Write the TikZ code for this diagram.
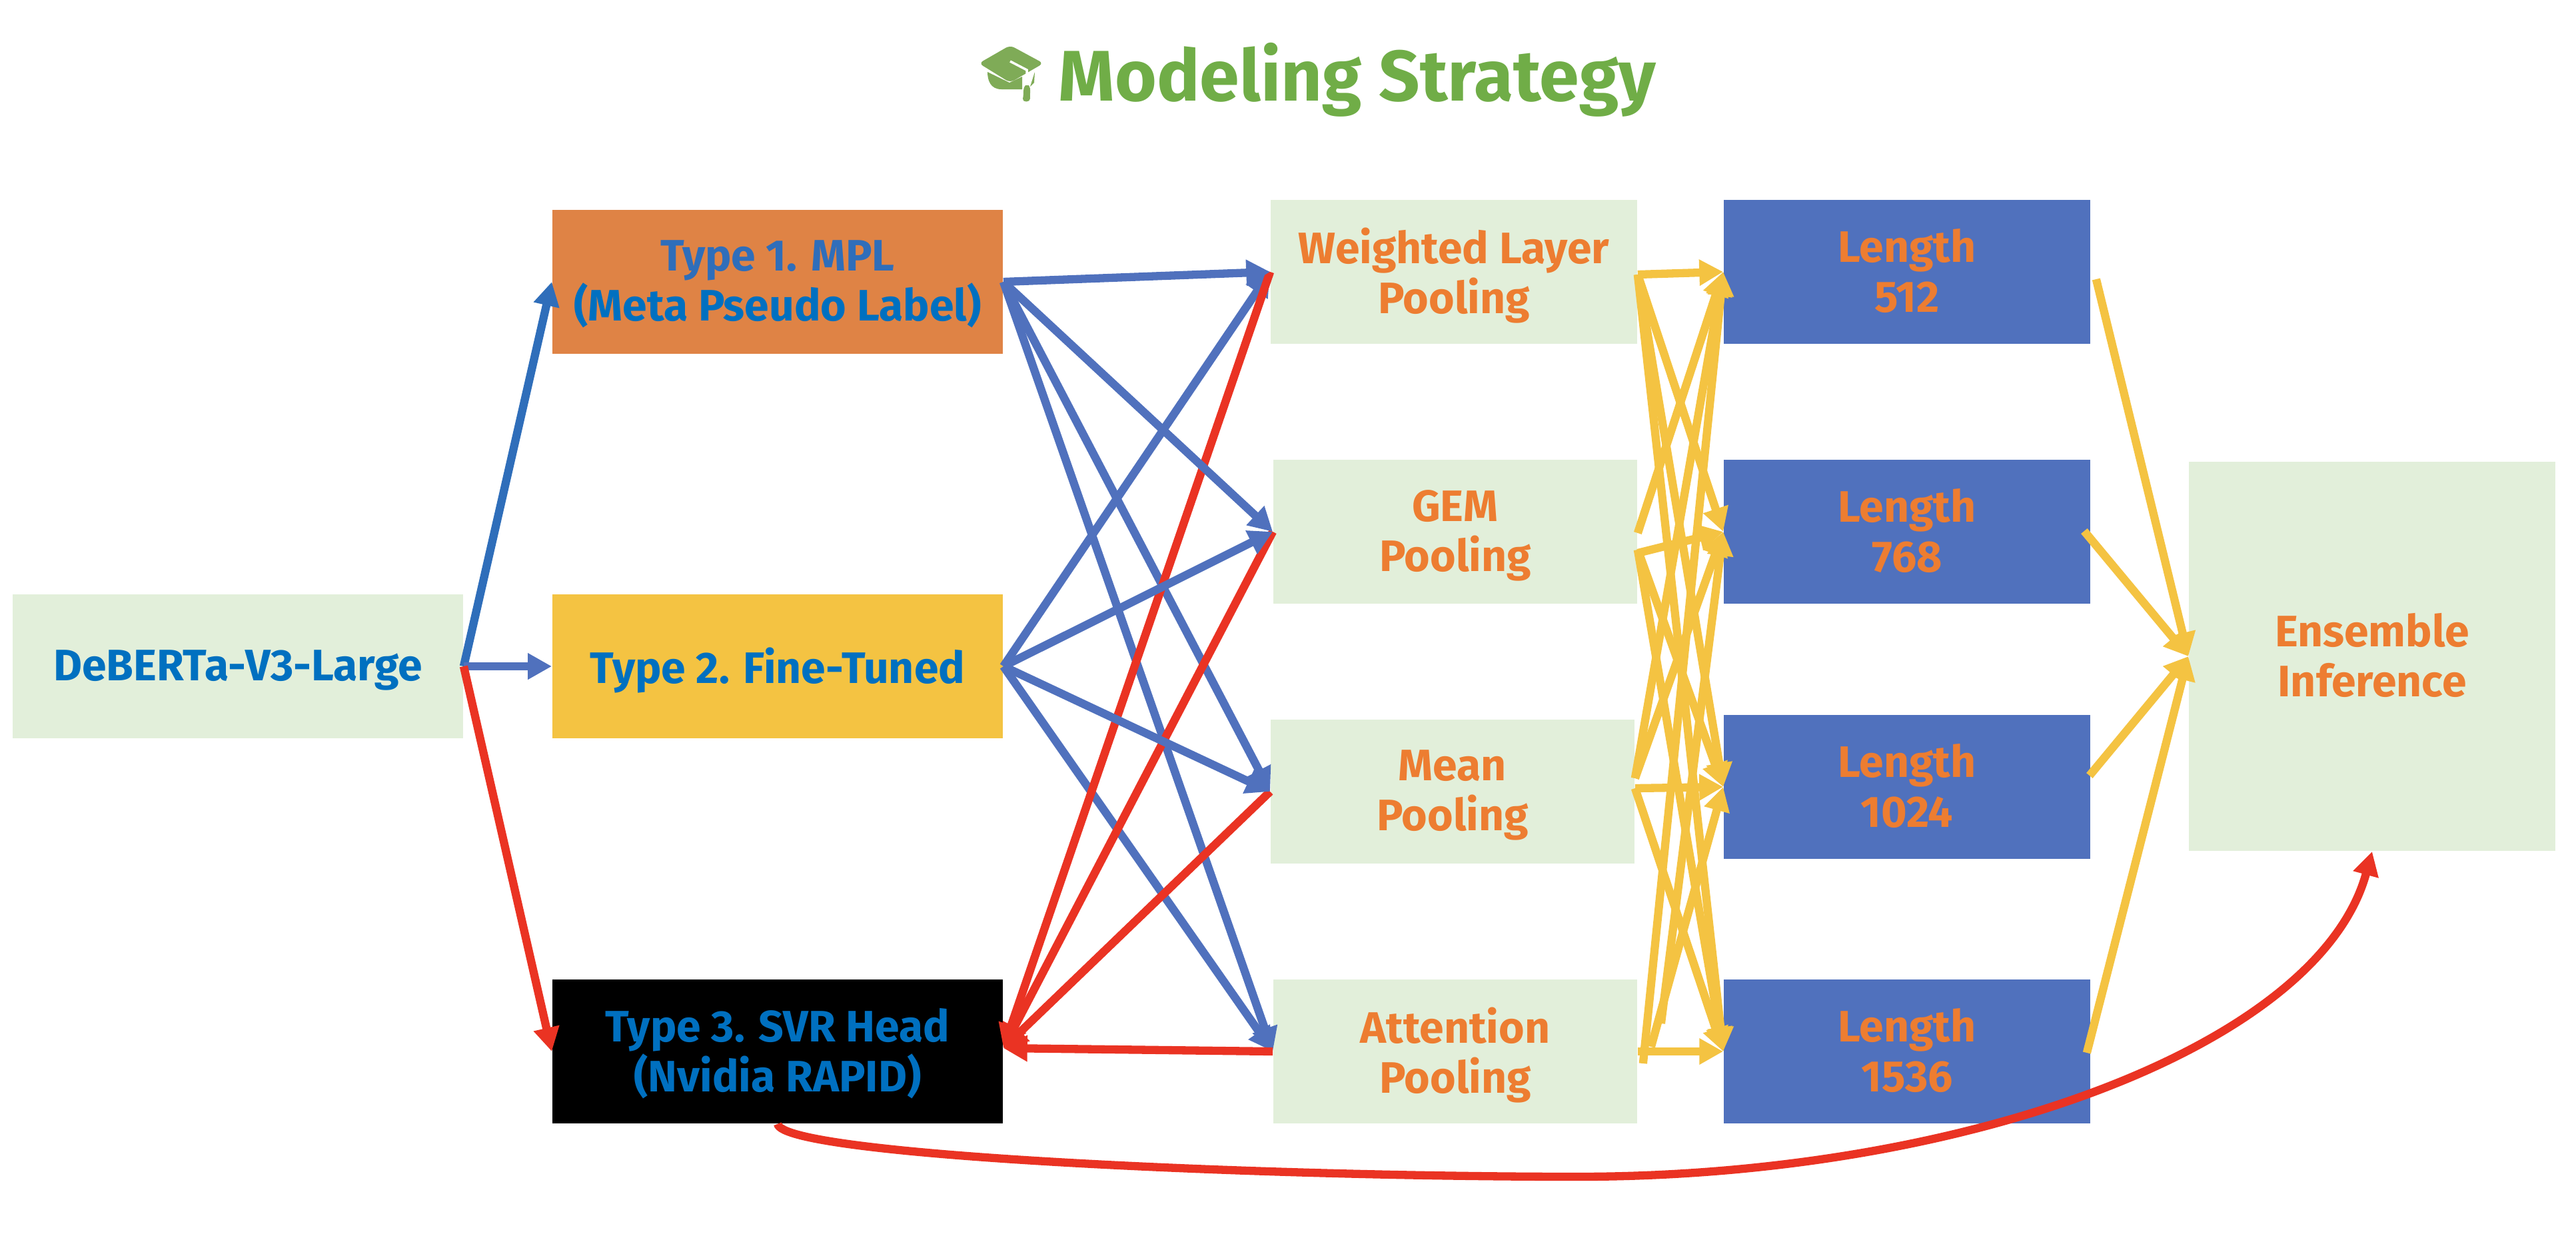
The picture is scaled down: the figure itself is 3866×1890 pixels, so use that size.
\documentclass[tikz,border=0pt]{standalone}
\usepackage{fontspec}
\setmainfont{Fira Sans}
\usetikzlibrary{arrows.meta,positioning}
\definecolor{paleGreen}{HTML}{E2EFDA}
\definecolor{titleGreen}{HTML}{70AD47}
\definecolor{capGreen}{HTML}{7FAB57}
\definecolor{boxOrange}{HTML}{DF8345}
\definecolor{boxYellow}{HTML}{F4C342}
\definecolor{boxBlue}{HTML}{5071BD}
\definecolor{textBlue}{HTML}{0070C0}
\definecolor{textOrange}{HTML}{ED7D31}
\definecolor{lineBlue}{HTML}{2F6EBA}
\definecolor{lineRed}{HTML}{EA3323}
\tikzset{
  basic/.style  = {rectangle, inner sep=0pt, align=center, minimum height=2.16cm, text depth=1pt,
                   font=\bfseries\fontsize{18.8}{21.3}\selectfont},
  model/.style  = {basic, minimum width=6.76cm, text=textBlue},
  pool/.style   = {basic, minimum width=5.46cm, fill=paleGreen, text=textOrange},
  lenbox/.style = {basic, minimum width=5.5cm, fill=boxBlue, text=textOrange},
  flow/.style   = {-{Triangle[length=10.2pt,width=10.6pt]}, line width=3.5pt},
  blueflow/.style = {flow, draw=boxBlue},
  redflow/.style  = {flow, draw=lineRed},
  goldflow/.style = {flow, draw=boxYellow}
}
\begin{document}
\begin{tikzpicture}[x=0.01cm, y=-0.01cm]
\useasboundingbox (0,0) rectangle (3866,1890);

% title with the cap drawn by hand
\fill[capGreen, rounded corners=2pt] (1469,95) -- (1516,68) -- (1566,95) -- (1516,124) -- cycle;
\fill[capGreen] (1482,108) -- (1515,124) -- (1534,115) -- (1534,134) -- (1503,134) .. controls (1486,134) and (1482,120) .. cycle;
\fill[capGreen] (1553,108) -- (1552,124) -- (1546,130) -- cycle;
\draw[white, line width=1pt] (1516,92) -- (1541,105) -- (1541,130);
\fill[capGreen] (1539,128) .. controls (1534,134) and (1537,140) .. (1535,148)
  .. controls (1534,154) and (1546,154) .. (1546,148)
  .. controls (1545,140) and (1548,134) .. (1544,128) -- cycle;
\node[text=titleGreen, font=\bfseries\fontsize{30.6}{32}\selectfont] (title) at (2037,120) {Modeling Strategy};

% the backbone and the three model types
\node[model, fill=paleGreen, minimum width=6.76cm] (base) at (357,1000) {DeBERTa-V3-Large};
\node[model, fill=boxOrange] (type1) at (1167,423) {\textcolor{lineBlue}{Type 1. MPL}\\(Meta Pseudo Label)};
\node[model, fill=boxYellow] (type2) at (1167,1000) {Type 2. Fine-Tuned};
\node[model, fill=black] (type3) at (1167,1578) {Type 3. SVR Head\\(Nvidia RAPID)};

% the pooling layers
\node[pool, minimum width=5.5cm] (pool1) at (2182,408) {Weighted Layer\\Pooling};
\node[pool] (pool2) at (2184,798) {GEM\\Pooling};
\node[pool] (pool3) at (2180,1188) {Mean\\Pooling};
\node[pool] (pool4) at (2184,1578) {Attention\\Pooling};

% the sequence lengths
\node[lenbox] (len1) at (2862,408) {Length\\512};
\node[lenbox] (len2) at (2862,798) {Length\\768};
\node[lenbox, minimum height=2.16cm] (len3) at (2862,1181) {Length\\1024};
\node[lenbox] (len4) at (2862,1578) {Length\\1536};

\node[pool, minimum width=5.5cm, minimum height=5.84cm] (ens) at (3560,985) {Ensemble\\Inference};

% from the backbone to the types
\draw[flow, draw=lineBlue] (base.east) -- (type1.west);
\draw[blueflow] (base.east) -- (type2.west);
\draw[redflow] (base.east) -- (type3.west);

% blue and red between types and pooling
\draw[blueflow] (type1.east) -- (pool4.west);
\draw[blueflow] (type2.east) -- (pool1.west);
\draw[blueflow] (type2.east) -- (pool4.west);
\draw[blueflow] (type1.east) -- (pool3.west);
\foreach \value in {1,2,3,4}
  \draw[redflow] (pool\value.west) -- ([yshift=0.05cm]type3.east);
\draw[blueflow] (type1.east) -- (pool1.west);
\draw[blueflow] (type1.east) -- (pool2.west);
\draw[blueflow] (type2.east) -- (pool2.west);
\draw[blueflow] (type2.east) -- (pool3.west);

% every pooling to every length
\foreach \from/\dx/\dy/\to in {
  1/0/4/1, 1/0/4/2, 1/0/4/3, 1/0/4/4,
  2/0/2/1, 2/0/32/2, 2/0/27/3, 2/0/27/4,
  3/0/-20/1, 3/0/-20/2, 3/0/-5/3, 3/0/-5/4,
  4/8/18/1, 4/35/-42/2, 4/20/-7/3, 4/0/0/4}
  \draw[goldflow] ([shift={(\dx,\dy)}]pool\from.east) -- (len\to.west);

% every length to the ensemble
\foreach \value/\dx/\dy in {1/8/11, 2/-10/-1, 3/-2/-17, 4/-6/2}
  \draw[goldflow] ([shift={(\dx,\dy)}]len\value.east) -- (ens.west);

% the long way round
\draw[redflow] (type3.south) .. controls (1175,1735) and (1900,1766) .. (2367,1766)
  .. controls (2950,1766) and (3480,1570) .. (ens.south);
\end{tikzpicture}
\end{document}
